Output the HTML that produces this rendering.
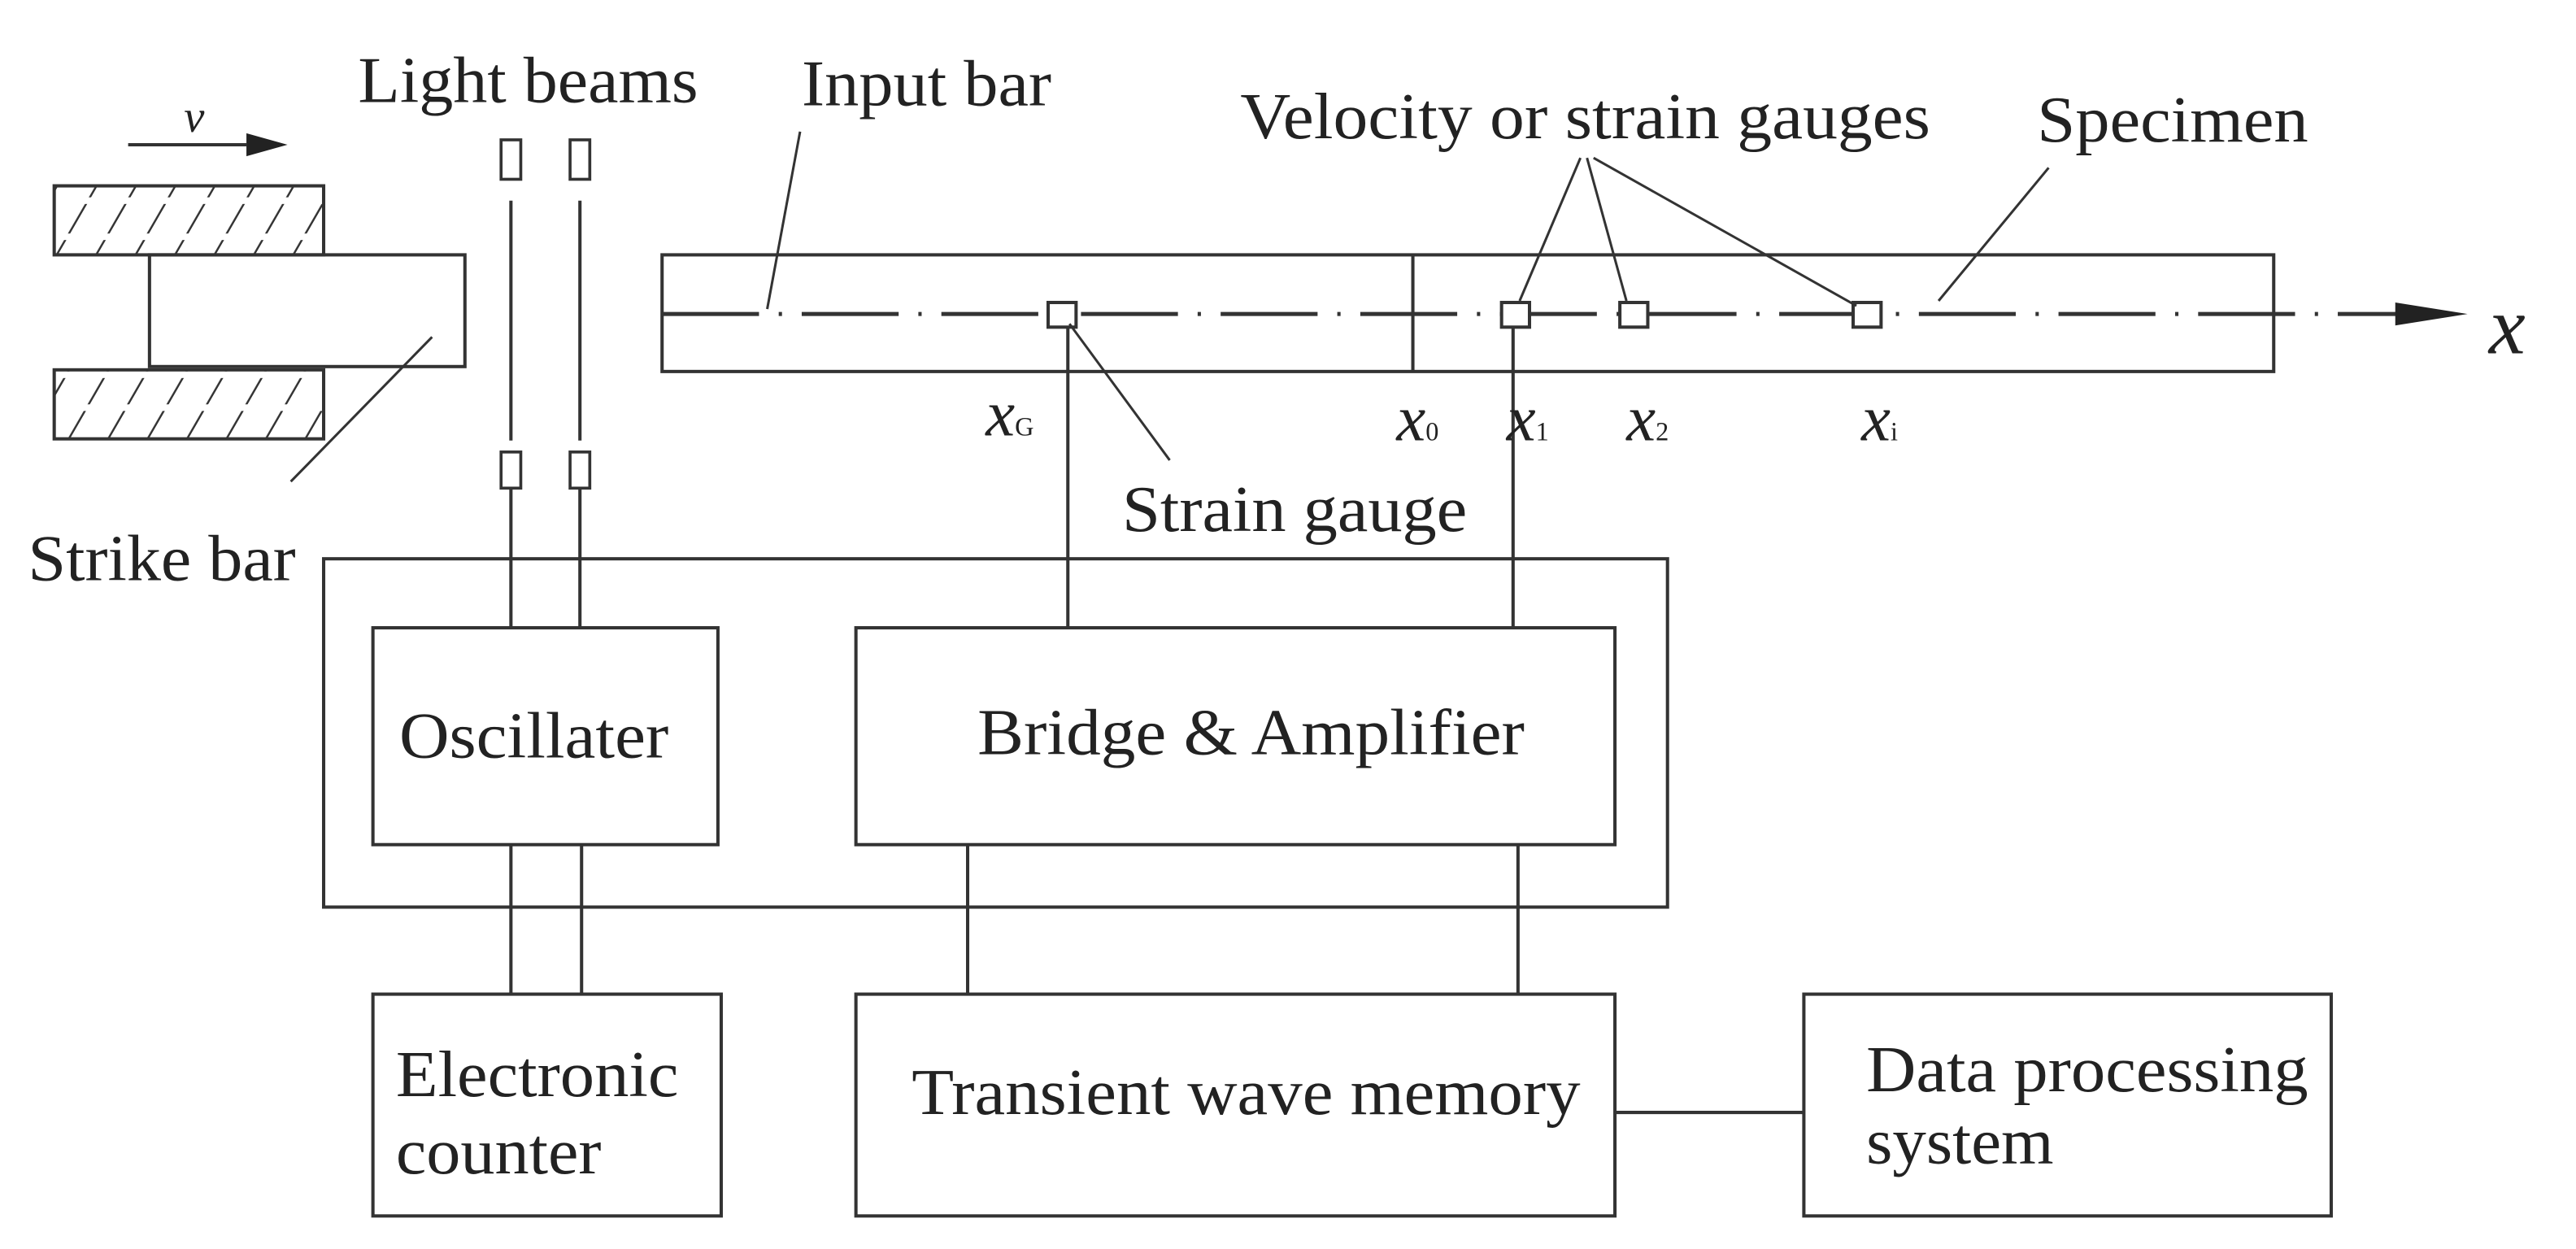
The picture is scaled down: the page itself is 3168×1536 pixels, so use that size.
<!DOCTYPE html>
<html><head><meta charset="utf-8"><style>
html,body{margin:0;padding:0;background:#fff;}
svg{display:block;}
text{font-family:"Liberation Serif",serif;fill:#222;}
</style></head><body>
<svg width="3168" height="1536" viewBox="0 0 1568 760" xmlns="http://www.w3.org/2000/svg">
<defs>
<pattern id="h" patternUnits="userSpaceOnUse" width="24" height="42" patternTransform="skewX(-30)">
<line x1="4" y1="0" x2="4" y2="42" stroke="#333" stroke-width="1.4" stroke-dasharray="16,4"/>
</pattern>
</defs>
<g stroke="#333" stroke-width="2" fill="none">
<line x1="78" y1="88" x2="150" y2="88"/>
<polygon points="150,81 175,88 150,95" fill="#222" stroke="none"/>
<rect x="33" y="113" width="164" height="42" fill="url(#h)"/>
<rect x="33" y="225" width="164" height="42" fill="url(#h)"/>
<rect x="91" y="155" width="192" height="68"/>
<line x1="263" y1="205" x2="177" y2="293" stroke-width="1.5"/>
<rect x="305" y="85" width="12" height="24" stroke-width="1.8"/>
<rect x="347" y="85" width="12" height="24" stroke-width="1.8"/>
<line x1="311" y1="122" x2="311" y2="268"/>
<line x1="353" y1="122" x2="353" y2="268"/>
<rect x="305" y="275" width="12" height="22" stroke-width="1.8"/>
<rect x="347" y="275" width="12" height="22" stroke-width="1.8"/>
<line x1="311" y1="297" x2="311" y2="382"/>
<line x1="353" y1="297" x2="353" y2="382"/>
<rect x="403" y="155" width="981" height="71"/>
<line x1="860" y1="155" x2="860" y2="226"/>
<line x1="403" y1="191" x2="1465" y2="191" stroke-width="2.5" stroke-dasharray="59,12,2,12"/>
<polygon points="1458,184 1502,191 1458,198" fill="#222" stroke="none"/>
<rect x="638" y="184" width="17" height="15" fill="#fff"/>
<rect x="914" y="184" width="17" height="15" fill="#fff"/>
<rect x="986" y="184" width="17" height="15" fill="#fff"/>
<rect x="1128" y="184" width="17" height="15" fill="#fff"/>
<line x1="487" y1="80" x2="467" y2="188" stroke-width="1.5"/>
<line x1="962" y1="96" x2="925" y2="183" stroke-width="1.5"/>
<line x1="966" y1="96" x2="990" y2="183" stroke-width="1.5"/>
<line x1="970" y1="96" x2="1130" y2="186" stroke-width="1.5"/>
<line x1="1247" y1="102" x2="1180" y2="183" stroke-width="1.5"/>
<line x1="651" y1="197" x2="712" y2="280" stroke-width="1.5"/>
<line x1="650" y1="199" x2="650" y2="382"/>
<line x1="921" y1="199" x2="921" y2="382"/>
<rect x="197" y="340" width="818" height="212"/>
<rect x="227" y="382" width="210" height="132"/>
<rect x="521" y="382" width="462" height="132"/>
<line x1="311" y1="514" x2="311" y2="605"/>
<line x1="354" y1="514" x2="354" y2="605"/>
<line x1="589" y1="514" x2="589" y2="605"/>
<line x1="924" y1="514" x2="924" y2="605"/>
<rect x="227" y="605" width="212" height="135"/>
<rect x="521" y="605" width="462" height="135"/>
<rect x="1098" y="605" width="321" height="135"/>
<line x1="983" y1="677" x2="1098" y2="677"/>
</g>
<g font-size="40">
<text x="112" y="80" font-style="italic" font-size="28">v</text>
<text x="218" y="62" textLength="207" lengthAdjust="spacingAndGlyphs">Light beams</text>
<text x="488" y="64" textLength="152" lengthAdjust="spacingAndGlyphs">Input bar</text>
<text x="755" y="84" textLength="420" lengthAdjust="spacingAndGlyphs">Velocity or strain gauges</text>
<text x="1240" y="86" textLength="165" lengthAdjust="spacingAndGlyphs">Specimen</text>
<text x="17" y="353" textLength="163" lengthAdjust="spacingAndGlyphs">Strike bar</text>
<text x="683" y="323" textLength="210" lengthAdjust="spacingAndGlyphs">Strain gauge</text>
<text x="1515" y="215" font-style="italic" font-size="50">x</text>
<text x="600" y="265" font-style="italic" font-size="40">x<tspan font-size="16" font-style="normal">G</tspan></text>
<text x="850" y="268" font-style="italic" font-size="40">x<tspan font-size="16" font-style="normal">0</tspan></text>
<text x="917" y="268" font-style="italic" font-size="40">x<tspan font-size="16" font-style="normal">1</tspan></text>
<text x="990" y="268" font-style="italic" font-size="40">x<tspan font-size="16" font-style="normal">2</tspan></text>
<text x="1133" y="268" font-style="italic" font-size="40">x<tspan font-size="16" font-style="normal">i</tspan></text>
<text x="243" y="461" textLength="164" lengthAdjust="spacingAndGlyphs">Oscillater</text>
<text x="595" y="459" textLength="333" lengthAdjust="spacingAndGlyphs">Bridge &amp; Amplifier</text>
<text x="241" y="667" textLength="172" lengthAdjust="spacingAndGlyphs">Electronic</text>
<text x="241" y="714" textLength="125" lengthAdjust="spacingAndGlyphs">counter</text>
<text x="555" y="678" textLength="407" lengthAdjust="spacingAndGlyphs">Transient wave memory</text>
<text x="1136" y="664" textLength="269" lengthAdjust="spacingAndGlyphs">Data processing</text>
<text x="1136" y="708" textLength="114" lengthAdjust="spacingAndGlyphs">system</text>
</g>
</svg>
</body></html>
